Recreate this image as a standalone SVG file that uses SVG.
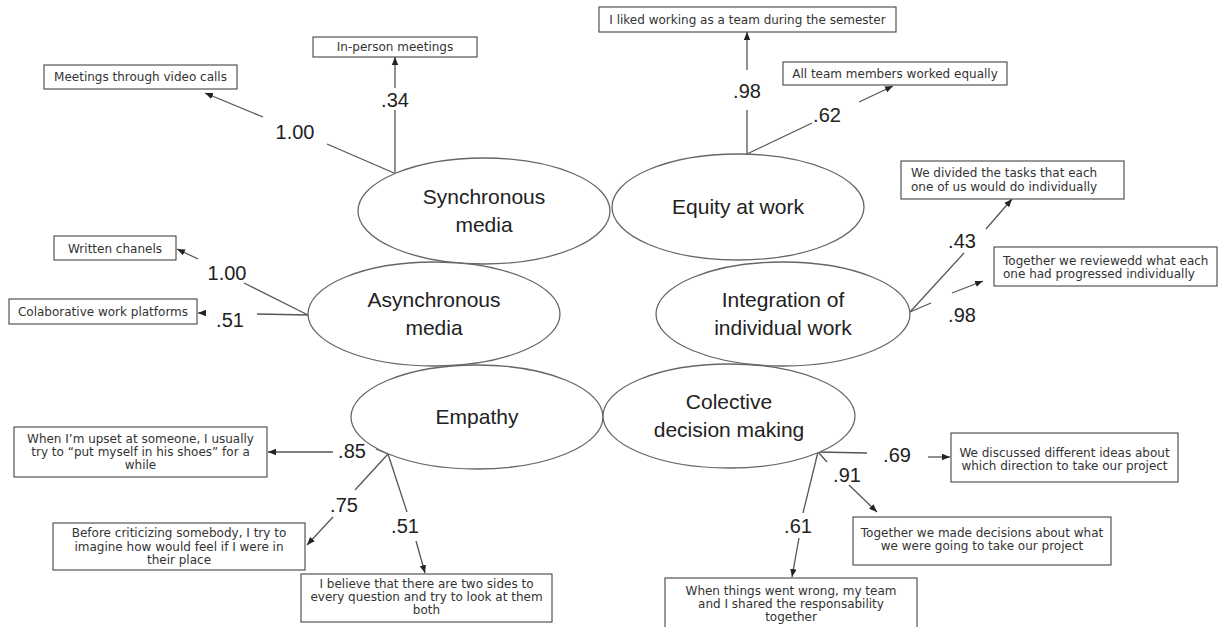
<svg xmlns="http://www.w3.org/2000/svg" width="1221" height="627" viewBox="0 0 1221 627">
<style>
.ell{fill:#fff;stroke:#666;stroke-width:1.3}
.rect{fill:#fff;stroke:#444;stroke-width:1.1}
.lat{font-family:"Liberation Sans",Arial,sans-serif;font-size:21px;fill:#222;text-anchor:middle}
.num{font-family:"Liberation Sans",Arial,sans-serif;font-size:20px;fill:#222;text-anchor:middle}
.bt{font-family:"DejaVu Sans",Verdana,sans-serif;font-size:12px;fill:#333}
.c{text-anchor:middle}
.ln{fill:none;stroke:#555;stroke-width:1.3}
.ar{marker-end:url(#ah)}
</style>
<defs>
<marker id="ah" viewBox="0 0 10 10" refX="10" refY="5" markerWidth="8" markerHeight="8" markerUnits="userSpaceOnUse" orient="auto"><path d="M0,1 L10,5 L0,9 z" fill="#222"/></marker>
</defs>
<rect width="1221" height="627" fill="#fff"/>

<g id="connectors">
<!-- Synchronous -->
<path class="ln" d="M394,173 L327,144"/>
<path class="ln ar" d="M263,117 L205,93"/>
<path class="ln" d="M395,173 L395,110"/>
<path class="ln ar" d="M395,88 L395,57"/>
<!-- Equity -->
<path class="ln" d="M747,154 L747,110"/>
<path class="ln ar" d="M747,70 L747,32"/>
<path class="ln" d="M747,154 L812,123"/>
<path class="ln ar" d="M859,102 L893,86"/>
<!-- Asynchronous -->
<path class="ln" d="M308,315 L244,283"/>
<path class="ln ar" d="M198,259 L177,249"/>
<path class="ln" d="M308,315 L257,314"/>
<path class="ln ar" d="M206,313 L198,313"/>
<!-- Integration -->
<path class="ln" d="M910,312 L964,253"/>
<path class="ln ar" d="M986,229 L1012,199"/>
<path class="ln" d="M910,312 L931,303"/>
<path class="ln ar" d="M952,293 L983,281"/>
<!-- Empathy -->
<path class="ln" d="M388,454 L376,449"/>
<path class="ln ar" d="M333,452 L268,452"/>
<path class="ln" d="M388,454 L355,490"/>
<path class="ln ar" d="M333,517 L307,545"/>
<path class="ln" d="M388,454 L407,512"/>
<path class="ln ar" d="M416,541 L425,573"/>
<!-- Colective -->
<path class="ln" d="M818,452 L867,453"/>
<path class="ln ar" d="M928,457 L950,457"/>
<path class="ln" d="M818,452 L827,462"/>
<path class="ln ar" d="M849,485 L877,512"/>
<path class="ln" d="M818,452 L803,513"/>
<path class="ln ar" d="M799,538 L792,577"/>
<!-- loadings -->
<text class="num" x="295" y="139">1.00</text>
<text class="num" x="395" y="107">.34</text>
<text class="num" x="747" y="98">.98</text>
<text class="num" x="827" y="122">.62</text>
<text class="num" x="227" y="280">1.00</text>
<text class="num" x="230" y="327">.51</text>
<text class="num" x="962" y="248">.43</text>
<text class="num" x="962" y="322">.98</text>
<text class="num" x="352" y="458">.85</text>
<text class="num" x="344" y="512">.75</text>
<text class="num" x="405" y="533">.51</text>
<text class="num" x="897" y="462">.69</text>
<text class="num" x="847" y="482">.91</text>
<text class="num" x="798" y="533">.61</text>
</g>

<g id="synchronous-media">
<ellipse class="ell" cx="484" cy="211" rx="126" ry="53"/>
<text class="lat" x="484" y="204">Synchronous</text>
<text class="lat" x="484" y="232">media</text>
</g>
<g id="equity-at-work">
<ellipse class="ell" cx="738" cy="207" rx="126" ry="53"/>
<text class="lat" x="738" y="214">Equity at work</text>
</g>
<g id="asynchronous-media">
<ellipse class="ell" cx="434" cy="314" rx="126" ry="52"/>
<text class="lat" x="434" y="307">Asynchronous</text>
<text class="lat" x="434" y="335">media</text>
</g>
<g id="integration">
<ellipse class="ell" cx="783" cy="314" rx="127" ry="52"/>
<text class="lat" x="783" y="307">Integration of</text>
<text class="lat" x="783" y="335">individual work</text>
</g>
<g id="empathy">
<ellipse class="ell" cx="477" cy="417" rx="126" ry="52"/>
<text class="lat" x="477" y="424">Empathy</text>
</g>
<g id="colective-decision-making">
<ellipse class="ell" cx="729" cy="416" rx="126" ry="52"/>
<text class="lat" x="729" y="409">Colective</text>
<text class="lat" x="729" y="437">decision making</text>
</g>

<g id="item-video-calls">
<rect class="rect" x="44" y="65" width="193" height="24"/>
<text class="bt c" x="140.5" y="81">Meetings through video calls</text>
</g>
<g id="item-in-person">
<rect class="rect" x="313" y="37" width="164" height="20"/>
<text class="bt c" x="395" y="51">In-person meetings</text>
</g>
<g id="item-liked-team">
<rect class="rect" x="599" y="7" width="297" height="25"/>
<text class="bt c" x="747.5" y="24">I liked working as a team during the semester</text>
</g>
<g id="item-worked-equally">
<rect class="rect" x="783" y="62" width="224" height="23"/>
<text class="bt c" x="895" y="78">All team members worked equally</text>
</g>
<g id="item-divided-tasks">
<rect class="rect" x="901" y="161" width="223" height="38"/>
<text class="bt" x="911" y="177">We divided the tasks that each</text>
<text class="bt" x="911" y="191">one of us would do individually</text>
</g>
<g id="item-reviewed">
<rect class="rect" x="994" y="247" width="223" height="39"/>
<text class="bt" x="1003" y="265">Together we reviewedd what each</text>
<text class="bt" x="1003" y="278">one had progressed individually</text>
</g>
<g id="item-written">
<rect class="rect" x="54" y="236" width="122" height="24"/>
<text class="bt c" x="115" y="253">Written chanels</text>
</g>
<g id="item-platforms">
<rect class="rect" x="9" y="299" width="188" height="25"/>
<text class="bt c" x="103" y="316">Colaborative work platforms</text>
</g>
<g id="item-upset">
<rect class="rect" x="14" y="427" width="253" height="50"/>
<text class="bt c" x="140.5" y="443">When I’m upset at someone, I usually</text>
<text class="bt c" x="140.5" y="456">try to “put myself in his shoes” for a</text>
<text class="bt c" x="140.5" y="469">while</text>
</g>
<g id="item-criticizing">
<rect class="rect" x="53" y="523" width="252" height="47"/>
<text class="bt c" x="179" y="537">Before criticizing somebody, I try to</text>
<text class="bt c" x="179" y="550.5">imagine how would feel if I  were in</text>
<text class="bt c" x="179" y="564">their place</text>
</g>
<g id="item-two-sides">
<rect class="rect" x="301" y="574" width="251" height="48"/>
<text class="bt c" x="426.5" y="588">I believe that there are two sides to</text>
<text class="bt c" x="426.5" y="601">every question and try to look at them</text>
<text class="bt c" x="426.5" y="614">both</text>
</g>
<g id="item-discussed">
<rect class="rect" x="951" y="433" width="227" height="49"/>
<text class="bt c" x="1064.5" y="457">We discussed different ideas about</text>
<text class="bt c" x="1064.5" y="470">which direction to take our project</text>
</g>
<g id="item-decisions">
<rect class="rect" x="853" y="517" width="258" height="48"/>
<text class="bt c" x="982" y="537">Together we made decisions about what</text>
<text class="bt c" x="982" y="550">we were going to take our project</text>
</g>
<g id="item-responsability">
<rect class="rect" x="665" y="578" width="252" height="52"/>
<text class="bt c" x="791" y="595">When things went wrong, my team</text>
<text class="bt c" x="791" y="608">and I shared the responsability</text>
<text class="bt c" x="791" y="621">together</text>
</g>
</svg>
